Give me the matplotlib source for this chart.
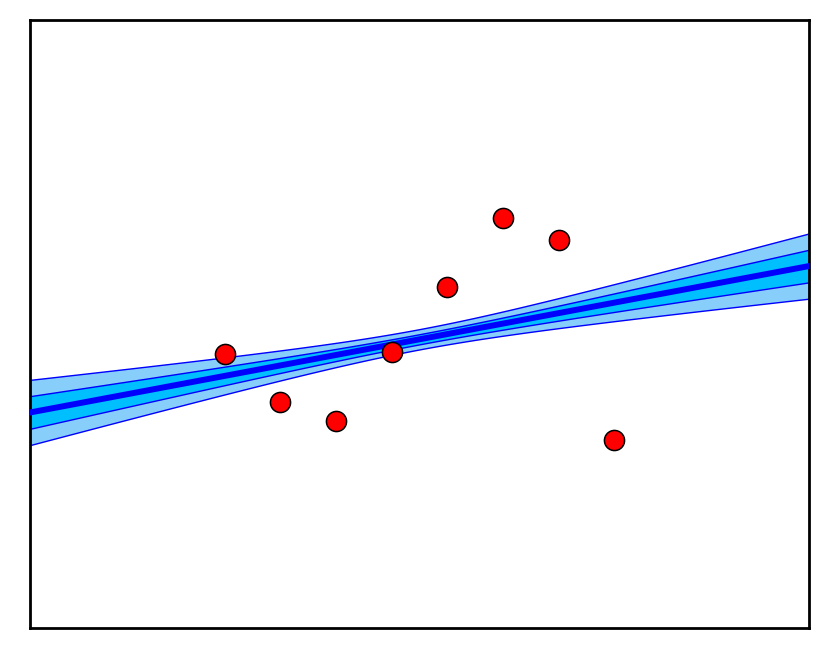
import numpy as np
import matplotlib
matplotlib.use("Agg")
import matplotlib.pyplot as plt

# data
x_points = [1, 2, 3, 4, 5, 6, 7, 8]
y_points = [4.51, 3.72, 3.40, 4.54, 5.61, 6.74, 6.38, 3.09]
x_limits = (-2.5, 11.5)
y_limits = (0.0, 10.0)
band_sigma = 0.236  # posterior noise scale used for the bands

x = np.array(x_points, dtype=float)
y = np.array(y_points, dtype=float)
slope, intercept = np.polyfit(x, y, 1)
xs = np.linspace(x_limits[0], x_limits[1], 300)
ys = intercept + slope * xs
n = len(x)
sxx = np.sum((x - x.mean()) ** 2)
sd = band_sigma * np.sqrt(1.0 / n + (xs - x.mean()) ** 2 / sxx)

fig = plt.figure(figsize=(8.3, 6.58), dpi=100)
ax = fig.add_axes([30 / 830, 30 / 658, 779 / 830, 608 / 658])

ax.fill_between(xs, ys - 2 * sd, ys + 2 * sd, facecolor="#87CEFA",
                edgecolor="blue", linewidth=1.0, zorder=1)
ax.fill_between(xs, ys - sd, ys + sd, facecolor="#00BFFF",
                edgecolor="blue", linewidth=1.0, zorder=2)
ax.plot(xs, ys, color="blue", linewidth=4.3, zorder=3)
ax.plot(x, y, "o", color="red", markeredgecolor="black", markeredgewidth=1.1,
        markersize=14.5, zorder=4)

ax.set_xlim(*x_limits)
ax.set_ylim(*y_limits)
ax.set_xticks([])
ax.set_yticks([])
for s in ax.spines.values():
    s.set_linewidth(2.0)

fig.savefig("out.png", dpi=100)
